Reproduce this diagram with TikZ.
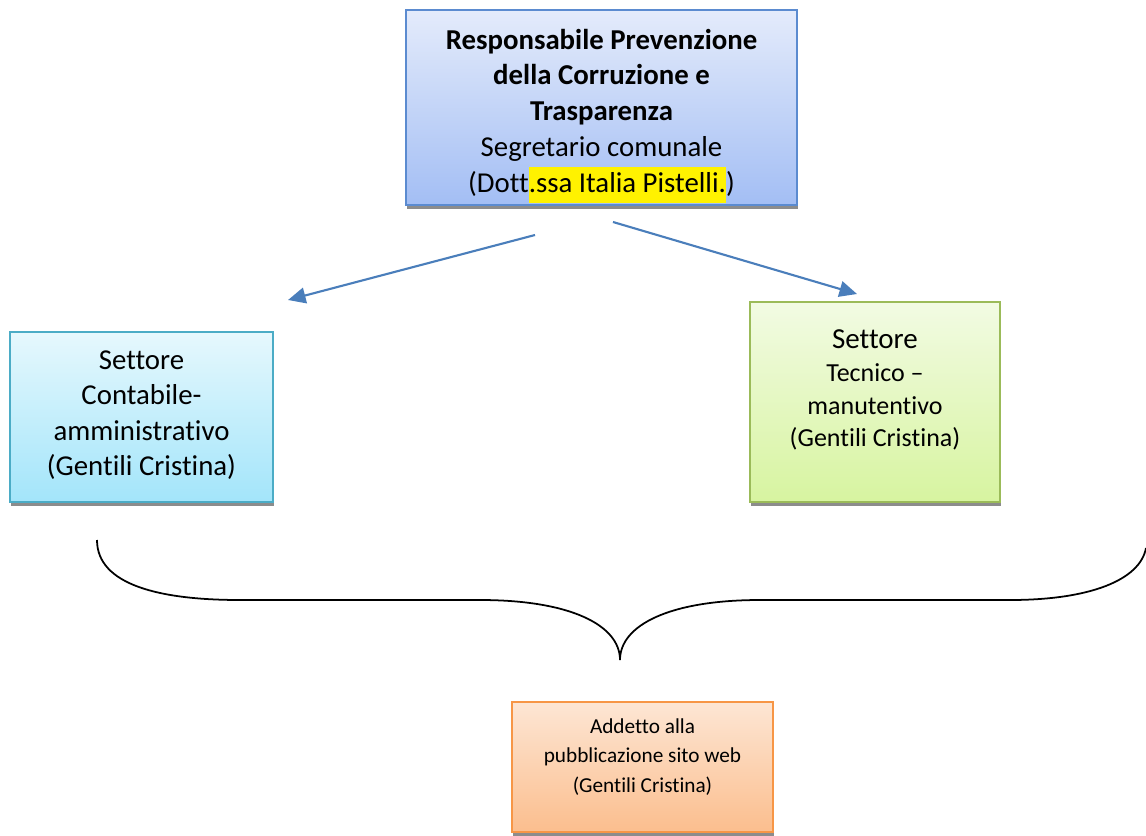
\documentclass[tikz,border=0pt]{standalone}
\usepackage{fontspec}
\setmainfont{Carlito}[Ligatures=NoCommon]
\usetikzlibrary{arrows.meta,shadows}
\definecolor{arrowblue}{HTML}{4A7EBB}
\definecolor{rpctdraw}{HTML}{5B8BD0}
\definecolor{rpcttop}{HTML}{E4EBFB}
\definecolor{rpctbot}{HTML}{A3BEF4}
\definecolor{contabdraw}{HTML}{4BACC6}
\definecolor{contabtop}{HTML}{E6F8FD}
\definecolor{contabbot}{HTML}{A3E5FA}
\definecolor{tecnicodraw}{HTML}{9BBB59}
\definecolor{tecnicotop}{HTML}{F2FBE3}
\definecolor{tecnicobot}{HTML}{D7F4A0}
\definecolor{sitodraw}{HTML}{F79646}
\definecolor{sitotop}{HTML}{FDE6D4}
\definecolor{sitobot}{HTML}{FBBE8E}
\tikzset{
    box/.style={rectangle, draw, line width=1pt, inner sep=0pt,
        drop shadow={shadow xshift=0.8pt, shadow yshift=-2.5pt,
        fill=black!45, opacity=1}}
}
\tikzset{
    txt/.style={align=center, inner sep=0pt}
}
\tikzset{
    link/.style={draw=arrowblue, line width=1.2pt,
        -{Triangle[length=10pt, width=9pt]}}
}

\begin{document}
\begin{tikzpicture}[x=0.02cm, y=-0.02cm]
  \useasboundingbox (0,0) rectangle (1146,835);

  \node (rpct) [box, draw=rpctdraw, top color=rpcttop,
    bottom color=rpctbot, minimum width=7.82cm,
    minimum height=3.9cm] at (601.5,107.5) {};
  \node (rpcttext) [txt, font=\fontsize{16.4}{20.4}\selectfont] at (601.5,116)
    {\textbf{Responsabile Prevenzione}\\ \textbf{della Corruzione e}\\
     \textbf{Trasparenza}\\ Segretario comunale\\
     (Dott{\setlength{\fboxsep}{0pt}\colorbox{yellow}{\strut.ssa Italia Pistelli.}})};

  \node (contab) [box, draw=contabdraw, top color=contabtop,
    bottom color=contabbot, minimum width=5.26cm,
    minimum height=3.4cm] at (141.5,417) {};
  \node (contabtext) [txt, font=\fontsize{16.4}{20.2}\selectfont] at (141.5,415)
    {Settore\\ Contabile-\\ amministrativo\\ (Gentili Cristina)};

  \node (tecnico) [box, draw=tecnicodraw, top color=tecnicotop,
    bottom color=tecnicobot, minimum width=5.0cm,
    minimum height=4.0cm] at (875,402) {};
  \node (tecnicotext) [txt, font=\fontsize{14.8}{18.7}\selectfont] at (875,390)
    {{\fontsize{16.5}{19}\selectfont Settore}\\ Tecnico --\\ manutentivo\\
     (Gentili Cristina)};

  \node (sito) [box, draw=sitodraw, top color=sitotop,
    bottom color=sitobot, minimum width=5.22cm,
    minimum height=2.6cm] at (642.5,767) {};
  \node (sitotext) [txt, font=\fontsize{12.1}{17}\selectfont] at (642.5,757)
    {Addetto alla\\ pubblicazione sito web\\ (Gentili Cristina)};

  \coordinate (from1) at (535,235);
  \coordinate (to1) at (288,300);
  \coordinate (from2) at (613,222);
  \coordinate (to2) at (857,294);
  \coordinate (bl) at (97,540);
  \coordinate (br) at (1146,548);
  \coordinate (tip) at (620,660);

  \draw [link] (from1) -- (to1);
  \draw [link] (from2) -- (to2);
  \draw [line width=1pt] (bl) .. controls (97,585) and (160,600) .. (240,600)
    -- (480,600) .. controls (570,600) and (620,625) .. (tip)
    .. controls (620,625) and (670,600) .. (760,600)
    -- (1010,600) .. controls (1090,600) and (1140,580) .. (br);
\end{tikzpicture}
\end{document}
